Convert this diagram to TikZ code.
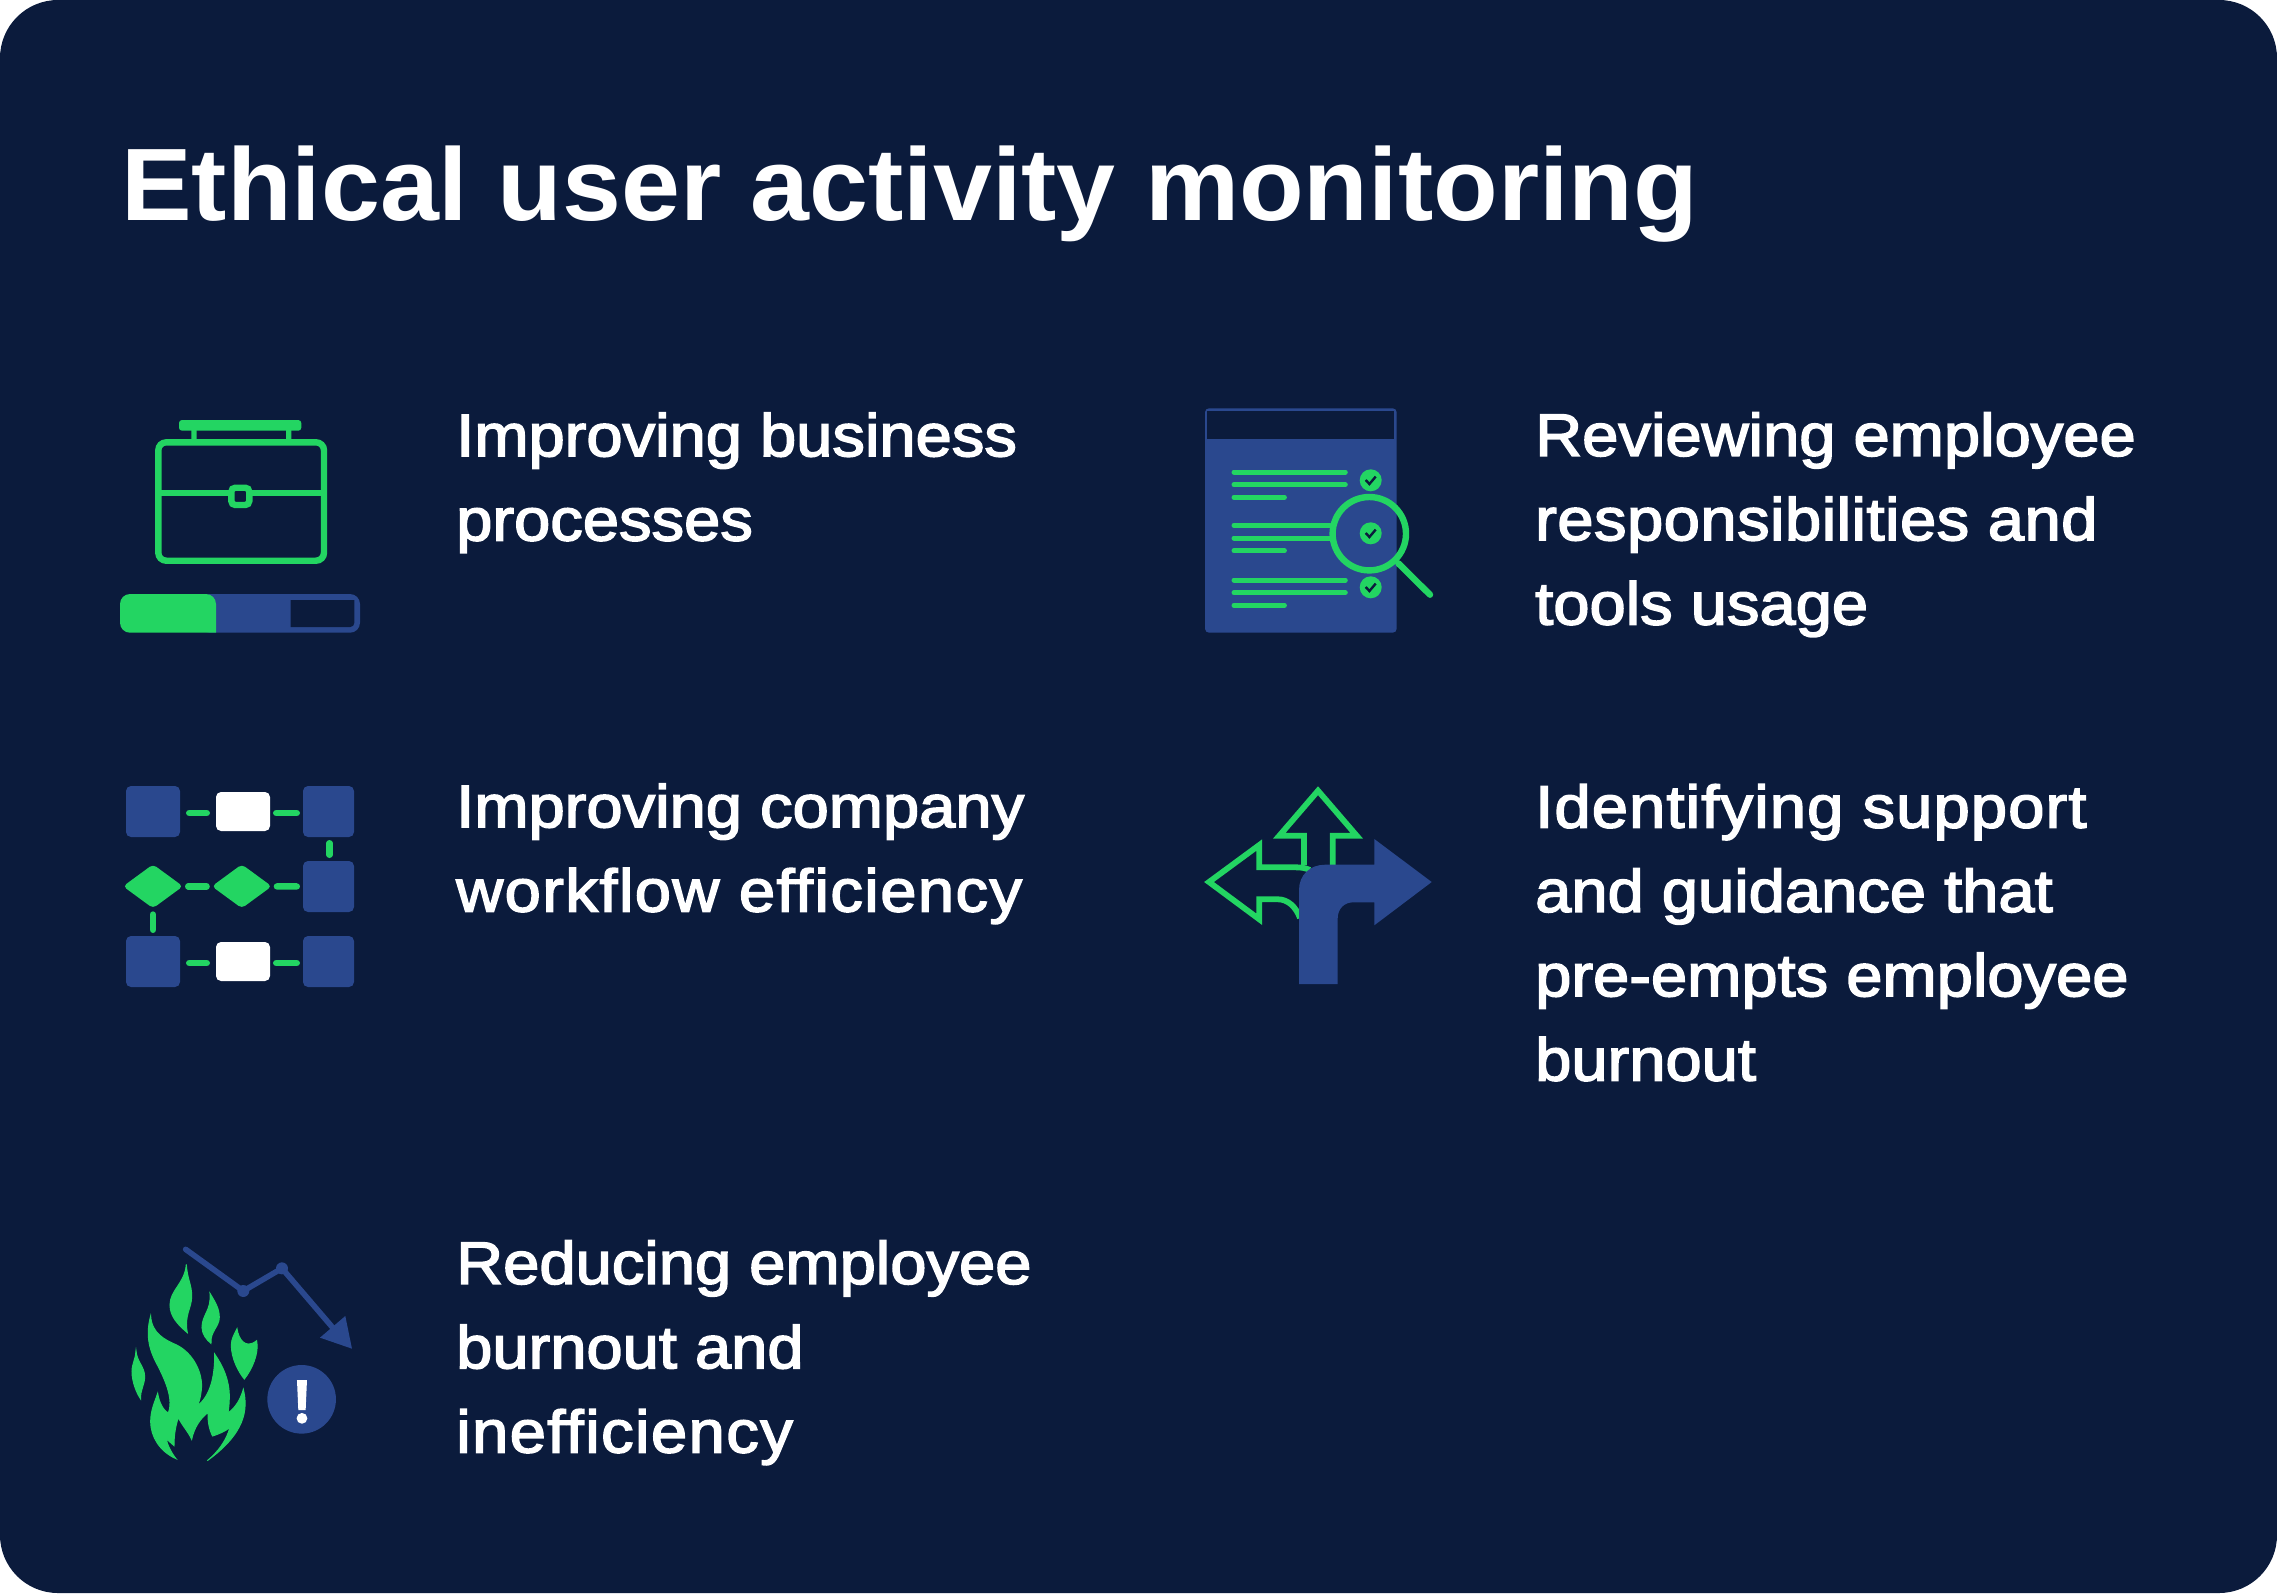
\documentclass[tikz,border=0pt]{standalone}
\usepackage{fontspec}
\usetikzlibrary{shapes.geometric}
\newfontfamily\titlefont[FakeStretch=1.028]{Liberation Sans Bold}
\newfontfamily\bodyfont[FakeBold=2.6,FakeStretch=1.085,Ligatures=NoCommon]{Liberation Sans}
\newcommand{\looser}[2]{{\addfontfeature{LetterSpace=#1}#2}}
\definecolor{panelbg}{RGB}{11,27,60}
\definecolor{iconblue}{RGB}{42,72,142}
\definecolor{icongreen}{RGB}{35,213,98}
\tikzset{
  titletext/.style={anchor=base west,inner sep=0pt,text=white,font=\titlefont\fontsize{103}{103}\selectfont},
  bodytext/.style={anchor=base west,inner sep=0pt,text=white,align=left,font=\bodyfont\fontsize{60}{84.3}\selectfont},
  greenline/.style={draw=icongreen,line width=6.4pt},
  docline/.style={draw=icongreen,line width=5pt,line cap=round},
  flowbox/.style={rectangle,fill=iconblue,rounded corners=5pt,inner sep=0pt,minimum width=#1,minimum height=51pt},
  flowwhite/.style={rectangle,fill=white,rounded corners=5pt,inner sep=0pt,minimum width=54pt,minimum height=39pt},
  flowgem/.style={diamond,fill=icongreen,rounded corners=4pt,inner sep=0pt,minimum width=60pt,minimum height=44pt},
  flowdash/.style={draw=icongreen,line width=6.4pt,line cap=round},
  tickmark/.style={draw=panelbg,line width=2.4pt},
  flamepart/.style={fill=icongreen,draw=icongreen,line width=1pt},
}
\begin{document}
\begin{tikzpicture}[x=1pt,y=-1pt]
            \useasboundingbox (0,0) rectangle (2277,1593);
            \fill[panelbg,rounded corners=58pt] (0,0) rectangle (2277,1593);
            \node[titletext] (title) at (121,220.5) {Ethical user activity monitoring};

            % multi-line nodes sit on the baseline of their last line
            \node[bodytext] (improvebiz) at (456,540.5) {Improving business\\processes};
            \node[bodytext] (reviewing) at (1535,624.5) {Reviewing employee\\\looser{0.8}{responsibilities and}\\tools usage};
            \node[bodytext] (improveflow) at (456,911.5) {Improving company\\\looser{2.4}{workflow efficiency}};
            \node[bodytext] (support) at (1535,1080.5) {\looser{1.9}{Identifying support}\\and guidance that\\pre-empts employee\\burnout};
            \node[bodytext] (reducing) at (456,1452.5) {Reducing employee\\burnout and\\\looser{2.4}{inefficiency}};

            % briefcase and progress bar
            \fill[icongreen,rounded corners=3pt] (179,420) rectangle (301.3,430.7);
            \fill[icongreen] (191.3,430) rectangle (196.7,441) (286,430) rectangle (291.3,441);
            \draw[greenline,rounded corners=8pt] (158.3,442.3) rectangle (324,560.7);
            \draw[greenline] (158.3,493) -- (324,493);
            \draw[greenline,fill=panelbg,rounded corners=4pt] (231.3,487.7) rectangle (249.3,505);
            \fill[iconblue,rounded corners=10pt] (200,594) rectangle (360,632.7);
            \fill[icongreen,rounded corners=10pt] (120,594) -- (216,594) [sharp corners] -- (216,632.7) [rounded corners=10pt] -- (120,632.7) -- cycle;
            \fill[panelbg] (290.7,600) -- (354.3,600) [rounded corners=4pt] -- (354.3,627) [sharp corners] -- (290.7,627) -- cycle;

            % checklist page
            \fill[iconblue,rounded corners=4pt] (1205,408.3) rectangle (1396.7,632.7);
            \fill[panelbg] (1207.3,411.3) rectangle (1393.7,438.7);
            \draw[docline] (1234,472) -- (1345.3,472);
            \draw[docline] (1234,484.7) -- (1345.3,484.7);
            \draw[docline] (1234,497.3) -- (1284.4,497.3);
            \draw[docline] (1234,525.3) -- (1330,525.3);
            \draw[docline] (1234,538) -- (1330,538);
            \draw[docline] (1234,550.7) -- (1284.4,550.7);
            \draw[docline] (1234,580) -- (1345.3,580);
            \draw[docline] (1234,592.7) -- (1345.3,592.7);
            \draw[docline] (1234,605.3) -- (1284.4,605.3);
            \foreach \ticky in {480.3,533.3,587.3} {
              \fill[icongreen] (1370.7,\ticky) circle (11pt);
              \draw[tickmark] (1365.7,\ticky) ++(0,-0.3) -- ++(3.7,4) -- ++(6.3,-7.4);
            }
            \draw[greenline] (1369.3,533.7) circle (36.7pt);
            \draw[greenline,line cap=round] (1398.3,563.3) -- (1430,594.7);

            % workflow
            \node[flowbox=54pt] (boxa) at (153,811.5) {};
            \node[flowwhite] (whitea) at (243,811.5) {};
            \node[flowbox=51pt] (boxb) at (328.5,811.5) {};
            \node[flowgem] (gema) at (153,886.3) {};
            \node[flowgem] (gemb) at (241.8,886.3) {};
            \node[flowbox=51pt] (boxc) at (328.5,886.5) {};
            \node[flowbox=54pt] (boxd) at (153,961.5) {};
            \node[flowwhite] (whiteb) at (243,961.5) {};
            \node[flowbox=51pt] (boxe) at (328.5,961.5) {};
            \draw[flowdash,shorten <=9pt,shorten >=9pt] ([yshift=-1.5pt]boxa.east) -- ([yshift=-1.5pt]whitea.west);
            \draw[flowdash,shorten <=6pt,shorten >=6pt] ([yshift=-1.5pt]whitea.east) -- ([yshift=-1.5pt]boxb.west);
            \draw[flowdash,shorten <=6pt,shorten >=6pt] ([xshift=1pt]boxb.south) -- ([xshift=1pt]boxc.north);
            \draw[flowdash,shorten <=5pt,shorten >=5pt] (gema) -- (gemb);
            \draw[flowdash,shorten <=5pt,shorten >=6pt] (gemb) -- (boxc);
            \draw[flowdash,shorten <=6pt,shorten >=6pt] (gema) -- (boxd);
            \draw[flowdash,shorten <=9pt,shorten >=9pt] ([yshift=-1.5pt]boxd.east) -- ([yshift=-1.5pt]whiteb.west);
            \draw[flowdash,shorten <=6pt,shorten >=6pt] ([yshift=-1.5pt]whiteb.east) -- ([yshift=-1.5pt]boxe.west);

            % road arrows
            \draw[greenline,line width=5.8pt,miter limit=10] (1304,865) -- (1304,835.7) -- (1279.3,835.7) -- (1318,790.7) -- (1356.7,835.7) -- (1332.7,835.7) -- (1332.7,868);
            \draw[greenline,line width=5.8pt,miter limit=10] (1310,870) .. controls (1305,868) and (1302,867.3) .. (1295,867.3) -- (1259.3,867.3) -- (1259.3,845) -- (1209,882) -- (1259.3,919.3) -- (1259.3,899.3) -- (1278,899.3) .. controls (1288,899.3) and (1296,907) .. (1300,918);
            \fill[iconblue] (1299,984) -- (1299,890) .. controls (1299,875) and (1310,864.7) .. (1325,864.7) -- (1374.3,864.7) -- (1374.3,839) -- (1431.7,882) -- (1374.3,925.3) -- (1374.3,902.3) -- (1353.3,902.3) .. controls (1344,902.3) and (1337.7,909) .. (1337.7,918.3) -- (1337.7,984) -- cycle;

            % flames and falling chart
            \begin{scope}[shift={(110,1230)},x=0.3333pt,y=-0.3333pt]
              \path[flamepart] (229,103) .. controls (232,150) and (246,165) .. (245,200) .. controls (245,235) and (222,255) .. (232,308) .. controls (205,285) and (180,260) .. (180,225) .. controls (180,180) and (225,160) .. (229,103) -- cycle;
              \path[flamepart] (300,190) .. controls (315,215) and (328,235) .. (328,262) .. controls (328,290) and (300,305) .. (303,340) .. controls (290,330) and (276,312) .. (276,292) .. controls (276,255) and (305,240) .. (300,190) -- cycle;
              \path[flamepart] (78,362) .. controls (80,395) and (104,410) .. (104,440) .. controls (104,465) and (90,480) .. (92,507) .. controls (80,490) and (66,455) .. (66,425) .. controls (66,400) and (78,385) .. (78,362) -- cycle;
              \path[flamepart] (381,296) .. controls (385,325) and (405,360) .. (440,332) .. controls (448,370) and (425,420) .. (403,447) .. controls (385,425) and (364,385) .. (364,345) .. controls (364,325) and (375,310) .. (381,296) -- cycle;
              \path[flamepart] (122,258) .. controls (125,310) and (165,330) .. (200,345) .. controls (250,370) and (280,430) .. (274,480) .. controls (272,500) and (268,515) .. (262,527) .. controls (300,500) and (315,440) .. (314,372) .. controls (340,410) and (358,450) .. (358,500) .. controls (358,520) and (356,535) .. (354,549) .. controls (380,530) and (392,505) .. (400,478) .. controls (415,540) and (405,610) .. (292,692) .. controls (325,665) and (350,630) .. (360,592) .. controls (345,605) and (325,612) .. (308,618) .. controls (298,600) and (292,570) .. (295,547) .. controls (270,565) and (252,595) .. (245,628) .. controls (235,605) and (215,585) .. (205,562) .. controls (198,585) and (192,610) .. (192,647) .. controls (185,640) and (175,633) .. (168,625) .. controls (172,645) and (185,670) .. (198,686) .. controls (150,665) and (122,620) .. (122,575) .. controls (122,540) and (135,515) .. (143,490) .. controls (148,520) and (160,540) .. (175,550) .. controls (190,510) and (170,460) .. (145,410) .. controls (120,365) and (105,320) .. (122,258) -- cycle;
              \draw[iconblue,line width=5.6pt,line cap=round,line join=round] (227,58) -- (400,183) -- (516,115) -- (670,295);
              \fill[iconblue] (400,183) circle (6pt) (516,115) circle (6pt);
              \fill[iconblue] (706,258) -- (726,356) -- (630,323) -- cycle;
              \fill[iconblue] (575,508) circle (34.3pt);
              \fill[white] (561,450) -- (591,450) -- (587,540) -- (565,540) -- cycle;
              \fill[white] (576,565) circle (5.4pt);
            \end{scope}
        \end{tikzpicture}
\end{document}
